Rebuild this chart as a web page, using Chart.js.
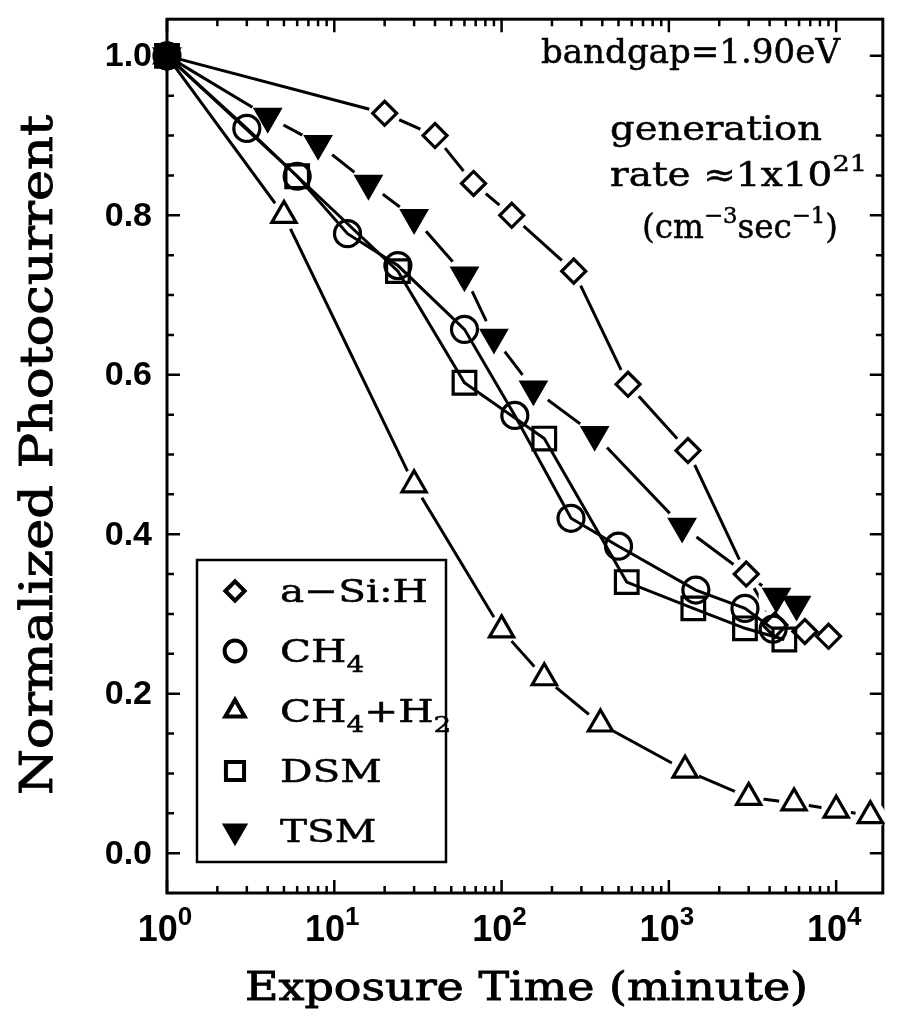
<!DOCTYPE html>
<html>
<head>
<meta charset="utf-8">
<script src="https://cdn.jsdelivr.net/npm/chart.js@4.4.0/dist/chart.umd.min.js"></script>
<style>
  html, body { margin: 0; padding: 0; background: #fff; }
</style>
</head>
<body>
<canvas id="chart" width="902" height="1018"></canvas>
<script>
// exposure time (minute) / normalized photocurrent
const aSiH_time = [1, 20, 40, 68, 115, 270, 570, 1300, 2900, 4300, 6500, 9000]
const aSiH_pc   = [1.0, 0.928, 0.90, 0.84, 0.80, 0.73, 0.588, 0.505, 0.35, 0.286, 0.278, 0.272]

const ch4_time = [1, 3, 6, 12, 24, 60, 120, 260, 500, 1450, 2850, 4200]
const ch4_pc   = [1.0, 0.909, 0.849, 0.777, 0.737, 0.657, 0.549, 0.42, 0.385, 0.33, 0.307, 0.281]

const ch4h2_time = [1, 5, 30, 100, 180, 390, 1250, 3000, 5600, 10000, 16000]
const ch4h2_pc   = [1.0, 0.80, 0.462, 0.28, 0.22, 0.162, 0.104, 0.07, 0.063, 0.054, 0.047]

const dsm_time = [1, 6, 24, 60, 180, 560, 1400, 2850, 4900]
const dsm_pc   = [1.0, 0.849, 0.73, 0.59, 0.52, 0.34, 0.307, 0.282, 0.268]

const tsm_time = [1, 4, 8, 16, 30, 60, 90, 155, 360, 1200, 4400, 5800]
const tsm_pc   = [1.0, 0.924, 0.89, 0.84, 0.797, 0.725, 0.647, 0.582, 0.525, 0.41, 0.322, 0.312]

// legend text, "_" marks a subscript character
const legendLabels = ['a\u2212Si:H', 'CH_4', 'CH_4+H_2', 'DSM', 'TSM']

const yTicks = [0, 0.2, 0.4, 0.6, 0.8, 1.0]
const yTickLabels = ['0.0', '0.2', '0.4', '0.6', '0.8', '1.0']
const xTicks = [1, 10, 100, 1000, 10000]
const xTickExp = ['0', '1', '2', '3', '4']

const xTitle = 'Exposure Time (minute)'
const yTitle = 'Normalized Photocurrent'

const BLACK = '#000'
const SERIF = '"DejaVu Serif", serif'
const SANS = '"Liberation Sans", Arial, sans-serif'

const pts = (t, v) => t.map((x, i) => ({ x: x, y: v[i] }))

const series = [
    { t: aSiH_time, v: aSiH_pc, style: 'rectRot', r: 12, rot: 0, filled: false, halo: 16 },
    { t: ch4_time, v: ch4_pc, style: 'circle', r: 13, rot: 0, filled: false, halo: 0 },
    { t: ch4h2_time, v: ch4h2_pc, style: 'triangle', r: 14, rot: 0, filled: false, halo: 15 },
    { t: dsm_time, v: dsm_pc, style: 'rect', r: 16, rot: 0, filled: false, halo: 0 },
    { t: tsm_time, v: tsm_pc, style: 'triangle', r: 14, rot: 180, filled: true, halo: 18 },
]

const datasets = []
series.forEach((s) => {
    const data = pts(s.t, s.v)
    // the start point, where all the markers pile up, prints as a solid blob
    const fill = s.t.map((t, i) => (s.filled || i === 0) ? BLACK : 'rgba(0,0,0,0)')
    const marker = {
        pointStyle: s.style,
        pointRadius: s.r,
        pointRotation: s.rot,
        pointBorderWidth: 3.2,
        pointBorderColor: BLACK,
        pointBackgroundColor: fill,
        pointHoverRadius: s.r,
    }
    if (s.halo) {
        // line underneath, white halo, then marker on top: gives the gaps near the markers
        datasets.push({ data, borderColor: BLACK, borderWidth: 3, pointRadius: 0, order: 3, clip: false })
        datasets.push({
            data: data.slice(1), showLine: false, pointStyle: 'circle', pointRadius: s.halo,
            pointBackgroundColor: '#fff', pointBorderWidth: 0, order: 2, clip: false
        })
        datasets.push({ data, showLine: false, order: 1, clip: false, ...marker })
    } else {
        datasets.push({ data, borderColor: BLACK, borderWidth: 3, order: 1, clip: false, ...marker })
    }
})

// text made of pieces: 'n' normal, 'sup', 'sub'
const pieceFont = (kind, size, family, weight, small) =>
    `${weight} ${kind === 'n' ? size : Math.round(size * small)}px ${family}`

const richWidth = (ctx, parts, size, family, weight, small = 0.7) => {
    let w = 0
    parts.forEach(([txt, kind]) => {
        ctx.font = pieceFont(kind, size, family, weight, small)
        w += ctx.measureText(txt).width
    })
    return w
}

// draws the pieces from x, squeezed or stretched so that they are `width` wide (if given)
const drawRich = (ctx, parts, x, y, size, family, weight, opts = {}) => {
    const small = opts.small || 0.7
    const natural = richWidth(ctx, parts, size, family, weight, small)
    const sx = opts.width ? opts.width / natural : (opts.sx || 1)
    ctx.save()
    ctx.translate(x, y)
    ctx.scale(sx, 1)
    let cx = 0
    parts.forEach(([txt, kind]) => {
        const dy = kind === 'sup' ? -size * 0.45 : kind === 'sub' ? size * 0.3 : 0
        ctx.font = pieceFont(kind, size, family, weight, small)
        ctx.fillText(txt, cx, dy)
        if (opts.stroke) { ctx.lineWidth = opts.stroke; ctx.strokeText(txt, cx, dy) }
        cx += ctx.measureText(txt).width
    })
    ctx.restore()
    return natural * sx
}

const parseLabel = (s) => {
    const parts = []
    for (let i = 0; i < s.length; i++) {
        if (s[i] === '_') { parts.push([s[i + 1], 'sub']); i++ }
        else parts.push([s[i], 'n'])
    }
    return parts
}

const paperPlugin = {
    id: 'paper',
    beforeDatasetsDraw(chart) {
        const { ctx, chartArea: a, scales: { x, y } } = chart
        ctx.save()
        ctx.strokeStyle = BLACK
        ctx.lineWidth = 3
        ctx.strokeRect(a.left, a.top, a.right - a.left, a.bottom - a.top)
        ctx.lineWidth = 2.5
        ctx.beginPath()
        for (let k = 0; k <= 21; k++) {
            const v = k * 0.05
            if (v > y.max) break
            const py = y.getPixelForValue(v)
            const len = k % 4 === 0 ? 13 : 7
            ctx.moveTo(a.left, py); ctx.lineTo(a.left + len, py)
            ctx.moveTo(a.right, py); ctx.lineTo(a.right - len, py)
        }
        for (let d = 0; d <= 4; d++) {
            for (let m = 1; m <= 9; m++) {
                const v = m * Math.pow(10, d)
                if (v > x.max) break
                const px = x.getPixelForValue(v)
                const len = m === 1 ? 13 : 7
                ctx.moveTo(px, a.bottom); ctx.lineTo(px, a.bottom - len)
                ctx.moveTo(px, a.top); ctx.lineTo(px, a.top + len)
            }
        }
        ctx.stroke()
        ctx.restore()
    },
    afterDraw(chart) {
        const { ctx, chartArea: a, scales: { x, y } } = chart
        ctx.save()
        ctx.fillStyle = BLACK
        ctx.strokeStyle = BLACK

        // y tick labels
        ctx.font = `bold 34px ${SANS}`
        ctx.textAlign = 'right'
        ctx.textBaseline = 'middle'
        yTicks.forEach((v, i) => ctx.fillText(yTickLabels[i], a.left - 15, y.getPixelForValue(v) + 1))

        // x tick labels 10^n
        ctx.textAlign = 'left'
        ctx.textBaseline = 'alphabetic'
        xTicks.forEach((v, i) => {
            const parts = [['10', 'n'], [xTickExp[i], 'sup']]
            const w = richWidth(ctx, parts, 36, SANS, 'bold', 0.72)
            drawRich(ctx, parts, x.getPixelForValue(v) - w / 2 - 2, a.bottom + 48, 36, SANS, 'bold', { small: 0.72 })
        })

        // axis titles
        drawRich(ctx, [[xTitle, 'n']], 245, 1000, 40, SERIF, 'normal', { width: 563, stroke: 0.9 })
        ctx.save()
        ctx.translate(52, 795)
        ctx.rotate(-Math.PI / 2)
        drawRich(ctx, [[yTitle, 'n']], 0, 0, 44, SERIF, 'normal', { width: 680, stroke: 0.9 })
        ctx.restore()

        // annotation
        const asz = 33
        drawRich(ctx, [['bandgap=1.90eV', 'n']], 541, 63, asz, SERIF, 'normal', { width: 299, stroke: 0.5 })
        drawRich(ctx, [['generation', 'n']], 610, 140, asz, SERIF, 'normal', { width: 212, stroke: 0.5 })
        drawRich(ctx, [['rate \u22481x10', 'n'], ['21', 'sup']], 610, 186, asz, SERIF, 'normal', { width: 257, stroke: 0.5 })
        drawRich(ctx, [['(cm', 'n'], ['\u22123', 'sup'], ['sec', 'n'], ['\u22121', 'sup'], [')', 'n']], 642, 238, asz, SERIF, 'normal', { width: 196, stroke: 0.5 })

        // legend box
        const lx = 197, ly = 560, lw = 249, lh = 302
        ctx.fillStyle = '#fff'
        ctx.fillRect(lx, ly, lw, lh)
        ctx.lineWidth = 2.5
        ctx.strokeRect(lx, ly, lw, lh)
        ctx.fillStyle = BLACK
        const lsz = 32
        const lsx = 148 / richWidth(ctx, parseLabel(legendLabels[0]), lsz, SERIF, 'normal')
        series.forEach((s, i) => {
            const cy = ly + 31 + i * 60
            ctx.save()
            ctx.fillStyle = s.filled ? BLACK : 'rgba(0,0,0,0)'
            ctx.lineWidth = 4
            Chart.helpers.drawPoint(ctx, { pointStyle: s.style, radius: s.r * 0.8, rotation: s.rot, borderWidth: 4 }, lx + 38, cy)
            ctx.restore()
            drawRich(ctx, parseLabel(legendLabels[i]), lx + 83, cy + 11, lsz, SERIF, 'normal', { sx: lsx, stroke: 0.5 })
        })
        ctx.restore()
    }
}

new Chart(document.getElementById('chart'), {
    type: 'line',
    data: { datasets },
    options: {
        responsive: false,
        animation: false,
        events: [],
        layout: { padding: { left: 167, right: 4, top: 15, bottom: 125 } },
        plugins: { legend: { display: false }, tooltip: { enabled: false } },
        scales: {
            x: { type: 'logarithmic', min: 1, max: 19000, display: false },
            y: { type: 'linear', min: -0.05, max: 1.046, display: false }
        }
    },
    plugins: [paperPlugin]
})
</script>
</body>
</html>
